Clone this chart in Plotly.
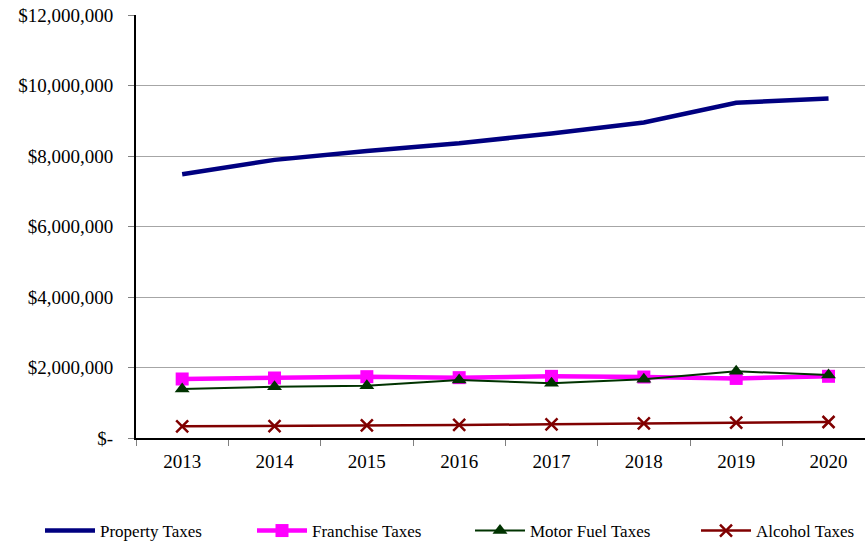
import plotly.graph_objects as go

years = ["2013", "2014", "2015", "2016", "2017", "2018", "2019", "2020"]

property_taxes = [7480000, 7890000, 8140000, 8360000, 8640000, 8950000, 9510000, 9630000]
franchise_taxes = [1674000, 1702000, 1740000, 1712000, 1749000, 1730000, 1690000, 1750000]
motor_fuel_taxes = [1390000, 1456000, 1485000, 1645000, 1551000, 1664000, 1891000, 1787000]
alcohol_taxes = [331000, 340000, 359000, 369000, 388000, 416000, 435000, 454000]

y_ticks = [0, 2000000, 4000000, 6000000, 8000000, 10000000, 12000000]
y_tick_labels = ["$-", "$2,000,000", "$4,000,000", "$6,000,000", "$8,000,000",
                 "$10,000,000", "$12,000,000"]

FONT = "Liberation Serif"
W, H = 865, 544

fig = go.Figure()

fig.add_trace(go.Scatter(
    x=years, y=property_taxes, name="Property Taxes", mode="lines",
    line=dict(color="#000080", width=4.5), legend="legend",
))
fig.add_trace(go.Scatter(
    x=years, y=franchise_taxes, name="Franchise Taxes", mode="lines+markers",
    line=dict(color="#FF00FF", width=4.5),
    marker=dict(symbol="square", size=13, color="#FF00FF"), legend="legend2",
))
fig.add_trace(go.Scatter(
    x=years, y=motor_fuel_taxes, name="Motor Fuel Taxes", mode="lines+markers",
    line=dict(color="#003300", width=2),
    marker=dict(symbol="triangle-up", size=13, color="#003300"), legend="legend3",
))
fig.add_trace(go.Scatter(
    x=years, y=alcohol_taxes, name="Alcohol Taxes", mode="lines+markers",
    line=dict(color="#800000", width=2.5),
    marker=dict(symbol="x-thin", size=12, color="#800000",
                line=dict(color="#800000", width=2.5)), legend="legend4",
))


def legend_box(x_px):
    # one single-entry legend per series, laid out along the bottom row
    return dict(
        orientation="h", xref="container", yref="container",
        x=x_px / W, xanchor="left", y=(H - 531) / H, yanchor="middle",
        font=dict(family=FONT, size=17, color="black"),
        itemwidth=50, bgcolor="rgba(0,0,0,0)",
    )


fig.update_layout(
    width=W, height=H,
    margin=dict(l=136, r=0, t=15, b=106),
    paper_bgcolor="white", plot_bgcolor="white",
    font=dict(family=FONT, size=19, color="black"),
    showlegend=True,
    legend=legend_box(40),
    legend2=legend_box(252),
    legend3=legend_box(470),
    legend4=legend_box(696),
)

fig.update_xaxes(
    type="category", range=[-0.5, 7.395],
    tickson="boundaries", ticks="outside", ticklen=6, tickcolor="#808080",
    showgrid=False, showline=True, linecolor="black", linewidth=2,
    tickfont=dict(family=FONT, size=19), ticklabelstandoff=5,
)
fig.update_yaxes(
    range=[0, 12000000], tickvals=y_ticks, ticktext=y_tick_labels,
    ticks="outside", ticklen=6, tickcolor="#808080",
    showgrid=True, gridcolor="#A6A6A6", gridwidth=1,
    showline=True, linecolor="black", linewidth=2, zeroline=False,
    tickfont=dict(family=FONT, size=19), ticklabelstandoff=11,
)

fig.write_html("out.html")
